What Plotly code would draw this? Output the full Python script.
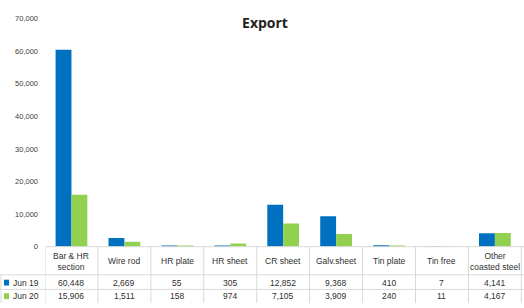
import plotly.graph_objects as go

categories = ["Bar & HR<br>section", "Wire rod", "HR plate", "HR sheet", "CR sheet",
              "Galv.sheet", "Tin plate", "Tin free", "Other<br>coasted steel"]
series_names = ["Jun 19", "Jun 20"]
jun19 = [60448, 2669, 55, 305, 12852, 9368, 410, 7, 4141]
jun20 = [15906, 1511, 158, 974, 7105, 3909, 240, 11, 4167]
colors = ["#0070C0", "#92D050"]
y_ticks = [0, 10000, 20000, 30000, 40000, 50000, 60000, 70000]

W, H = 524, 308
def py(px):
    return (H - px) / H

x_idx = list(range(len(categories)))
fig = go.Figure()
for name, vals, c in zip(series_names, [jun19, jun20], colors):
    fig.add_trace(go.Bar(x=x_idx, y=vals, name=name, marker_color=c, marker_line_width=0))

font = "Liberation Sans, Arial, sans-serif"
txt = "#303030"
line_c = "#D9D9D9"

fig.update_layout(
    width=W, height=H, margin=dict(l=0, r=0, t=0, b=0),
    paper_bgcolor="white", plot_bgcolor="white",
    showlegend=False, bargap=0.4, bargroupgap=0,
    xaxis=dict(domain=[45 / W, 1], range=[-0.5, 8.55], showticklabels=False,
               showgrid=False, zeroline=False, showline=False),
    yaxis=dict(domain=[py(250), py(15)], range=[0, 70000], tickvals=y_ticks,
               tickformat=",d", showgrid=False, zeroline=False, showline=False,
               tickfont=dict(family=font, size=7.5, color="#404040"),
               ticklabelstandoff=6),
    title=dict(text="<b>Export</b>", x=265 / W, xanchor="center", y=py(23), yanchor="middle",
               font=dict(family="Open Sans, sans-serif", size=14, color="#222222")),
)

shapes = []
shapes.append(dict(type="line", xref="paper", yref="paper", x0=45 / W, x1=1, y0=py(250), y1=py(250),
                   line=dict(color=line_c, width=1)))
for ypx in [279, 294]:
    shapes.append(dict(type="line", xref="paper", yref="paper", x0=0, x1=1, y0=py(ypx), y1=py(ypx),
                       line=dict(color=line_c, width=1)))
shapes.append(dict(type="line", xref="paper", yref="paper", x0=1 / W, x1=1 / W, y0=py(279), y1=0,
                   line=dict(color=line_c, width=1)))
for i in range(len(categories) + 1):
    shapes.append(dict(type="line", xref="x", yref="paper", x0=i - 0.5, x1=i - 0.5, y0=py(250), y1=0,
                       line=dict(color=line_c, width=1)))
fig.update_layout(shapes=shapes)

ann = []
for i, cat in enumerate(categories):
    ann.append(dict(x=i, y=py(265), xref="x", yref="paper", text=cat, showarrow=False,
                    font=dict(family=font, size=8.5, color=txt), xanchor="center", yanchor="middle"))
    for vals, ypx in [(jun19, 287), (jun20, 301)]:
        ann.append(dict(x=i, y=py(ypx), xref="x", yref="paper", text=f"{vals[i]:,}", showarrow=False,
                        font=dict(family=font, size=8.5, color=txt), xanchor="center", yanchor="middle"))
for name, c, ypx in zip(series_names, colors, [287, 301]):
    ann.append(dict(x=11 / W, y=py(ypx), xref="paper", yref="paper", text=name, showarrow=False,
                    font=dict(family=font, size=8.5, color=txt), xanchor="left", yanchor="middle"))
    fig.add_shape(type="rect", xref="paper", yref="paper", x0=4 / W, x1=9 / W,
                  y0=py(ypx + 3), y1=py(ypx - 3), fillcolor=c, line_width=0)
fig.update_layout(annotations=ann)

fig.write_html("out.html", config={"displayModeBar": False},
               post_script="document.body.style.margin='0';document.body.style.overflow='hidden';")
